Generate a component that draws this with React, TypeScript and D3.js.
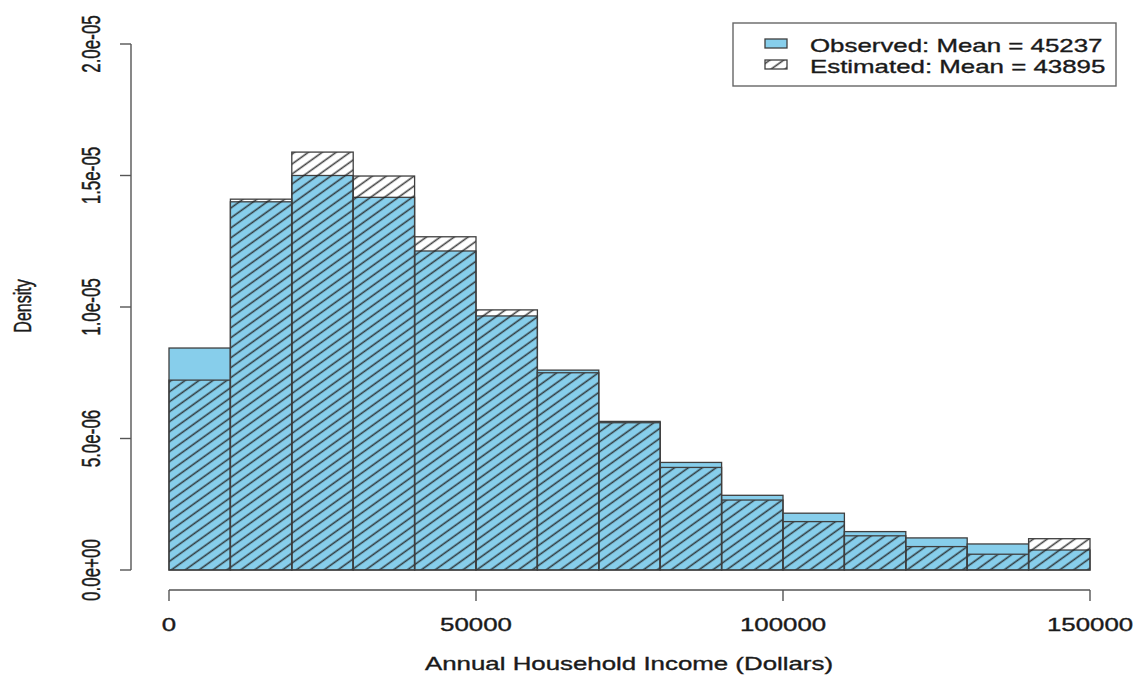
import React from "react";
import * as d3 from "d3";

const breaks = [0, 10000, 20000, 30000, 40000, 50000, 60000, 70000, 80000, 90000, 100000, 110000, 120000, 130000, 140000, 150000];
const observed = [8.44e-6, 1.40e-5, 1.50e-5, 1.417e-5, 1.213e-5, 9.66e-6, 7.6e-6, 5.65e-6, 4.09e-6, 2.84e-6, 2.16e-6, 1.46e-6, 1.22e-6, 0.99e-6, 0.76e-6];
const estimated = [7.22e-6, 1.41e-5, 1.589e-5, 1.498e-5, 1.267e-5, 9.89e-6, 7.5e-6, 5.6e-6, 3.9e-6, 2.66e-6, 1.84e-6, 1.30e-6, 0.89e-6, 0.60e-6, 1.19e-6];
const xTicks = [0, 50000, 100000, 150000];
const yTicks = [0, 5e-6, 1e-5, 1.5e-5, 2e-5];
const yTickLabels = ["0.0e+00", "5.0e-06", "1.0e-05", "1.5e-05", "2.0e-05"];
const legendLabels = ["Observed: Mean = 45237", "Estimated: Mean = 43895"];

const W = 1133;
const H = 675;
const SX = 1.39;
const FONT = "'Liberation Sans', Arial, Helvetica, sans-serif";

export default function App() {
  const x = d3.scaleLinear().domain([0, 150000]).range([169, 1090]);
  const y = d3.scaleLinear().domain([0, 2e-5]).range([570, 44]);
  const bins = breaks.slice(0, -1).map((b, i) => ({ x0: b, x1: breaks[i + 1], obs: observed[i], est: estimated[i] }));
  const border = "#3f3f3f";
  const blue = "#87CEEB";

  const hText = (tx: number, ty: number, s: string, size: number, anchor: string, key?: string) => (
    <text
      key={key}
      transform={`translate(${tx},${ty}) scale(${SX},1)`}
      fontFamily={FONT}
      fontSize={size}
      textAnchor={anchor}
      fill="#1a1a1a"
      stroke="#1a1a1a"
      strokeWidth={0.35}
    >
      {s}
    </text>
  );

  return (
    <svg width={W} height={H} style={{ position: "absolute", left: 0, top: 0, background: "#fff" }}>
      <defs>
        <pattern id="hatch" patternUnits="userSpaceOnUse" width={40} height={8.1} patternTransform="rotate(-35.7)">
          <line x1={0} y1={4} x2={40} y2={4} stroke="#222" strokeWidth={1.6} strokeOpacity={0.85} />
        </pattern>
      </defs>

      {/* observed bars */}
      {bins.map((b, i) => (
        <rect
          key={`o${i}`}
          x={x(b.x0)}
          y={y(b.obs)}
          width={x(b.x1) - x(b.x0)}
          height={y(0) - y(b.obs)}
          fill={blue}
          stroke={border}
          strokeWidth={1.3}
        />
      ))}
      {/* estimated bars (hatched) */}
      {bins.map((b, i) => (
        <rect
          key={`e${i}`}
          x={x(b.x0)}
          y={y(b.est)}
          width={x(b.x1) - x(b.x0)}
          height={y(0) - y(b.est)}
          fill="url(#hatch)"
          stroke={border}
          strokeWidth={1.3}
        />
      ))}

      {/* x axis */}
      <g stroke="#555" strokeWidth={1.4} fill="none">
        <line x1={x(0)} x2={x(150000)} y1={590} y2={590} />
        {xTicks.map((t) => (
          <line key={`xt${t}`} x1={x(t)} x2={x(t)} y1={590} y2={601} />
        ))}
      </g>
      {xTicks.map((t) => hText(x(t), 631, String(t), 18.6, "middle", `xl${t}`))}

      {/* y axis */}
      <g stroke="#555" strokeWidth={1.4} fill="none">
        <line x1={131} x2={131} y1={y(0)} y2={y(2e-5)} />
        {yTicks.map((t) => (
          <line key={`yt${t}`} x1={120} x2={131} y1={y(t)} y2={y(t)} />
        ))}
      </g>
      {yTicks.map((t, i) => (
        <text
          key={`yl${i}`}
          transform={`translate(100,${y(t)}) scale(1.55,1) rotate(-90)`}
          fontFamily={FONT}
          fontSize={17}
          textAnchor="middle"
          fill="#1a1a1a"
          stroke="#1a1a1a"
          strokeWidth={0.3}
        >
          {yTickLabels[i]}
        </text>
      ))}
      <text
        transform={`translate(31,306) scale(1.5,1) rotate(-90)`}
        fontFamily={FONT}
        fontSize={16}
        textAnchor="middle"
        fill="#1a1a1a"
        stroke="#1a1a1a"
        strokeWidth={0.3}
      >
        Density
      </text>

      {hText(629, 670, "Annual Household Income (Dollars)", 18.6, "middle")}

      {/* legend */}
      <rect x={733} y={23} width={383} height={63} fill="#fff" stroke="#666" strokeWidth={1.4} />
      <rect x={765} y={39} width={22} height={9} fill={blue} stroke={border} strokeWidth={1.3} />
      <rect x={765} y={60} width={22} height={9} fill="url(#hatch)" stroke={border} strokeWidth={1.3} />
      {legendLabels.map((s, i) => hText(810, 52 + i * 21, s, 18.6, "start", `lg${i}`))}
    </svg>
  );
}
